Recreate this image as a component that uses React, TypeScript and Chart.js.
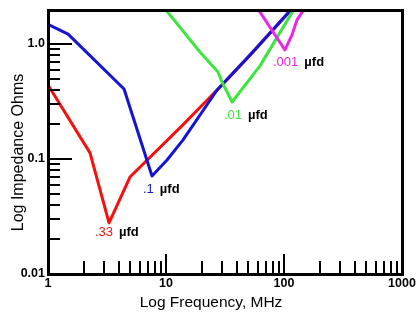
import { useEffect, useRef } from "react";
import { Chart, registerables } from "chart.js";

Chart.register(...registerables);

const FONT = "'Liberation Sans', Arial, Helvetica, sans-serif";

// Axis ranges and tick labels
const X_MIN = 1;
const X_MAX = 1000;
const Y_MIN = 0.01;
const Y_MAX = 1.975;
const X_TICKS = [1, 10, 100, 1000];
const X_TICK_LABELS = ["1", "10", "100", "1000"];
const Y_TICKS = [0.01, 0.1, 1];
const Y_TICK_LABELS = ["0.01", "0.1", "1.0"];

const X_TITLE = "Log Frequency, MHz";
const Y_TITLE = "Log Impedance Ohms";

// Series (capacitor values)
const SERIES_NAMES = [".33", ".1", ".01", ".001"];
const UNIT = "µfd";
const SERIES_COLORS = ["#f51010", "#1414d2", "#3ce63c", "#e628e6"];

// .33 ufd
const FREQ_033 = [1, 2.27, 3.29, 4.95, 13.9, 29.8, 51.5, 112.4, 136.7];
const Z_033 = [0.44, 0.113, 0.0278, 0.0697, 0.198, 0.44, 0.8, 1.94, 2.41];
// .1 ufd
const FREQ_01 = [1, 1.48, 4.41, 7.61, 10.2, 13.9, 27.1, 51.5, 112.4, 136.7];
const Z_01 = [1.48, 1.22, 0.406, 0.0712, 0.098, 0.146, 0.398, 0.8, 1.94, 2.41];
// .01 ufd
const FREQ_001 = [8.55, 19.4, 27.6, 29.8, 36.3, 62.6, 119.2, 139.3];
const Z_001 = [2.41, 0.851, 0.571, 0.468, 0.313, 0.645, 1.94, 2.41];
// .001 ufd
const FREQ_0001 = [53.6, 101.9, 116.9, 128.9, 144.9, 159.7];
const Z_0001 = [2.41, 0.887, 1.2, 1.62, 1.94, 2.32];

// Label anchors (data coordinates, left edge / vertical middle)
const LABEL_X = [2.5, 6.38, 31.0, 80.7];
const LABEL_Y = [0.023, 0.0548, 0.237, 0.697];

const FREQS = [FREQ_033, FREQ_01, FREQ_001, FREQ_0001];
const ZS = [Z_033, Z_01, Z_001, Z_0001];

const decorPlugin = {
  id: "decor",
  afterDatasetsDraw(chart: any) {
    const { ctx, chartArea: a, scales } = chart;
    const xs = scales.x;
    const ys = scales.y;
    ctx.save();
    ctx.strokeStyle = "#000";
    ctx.lineWidth = 2;
    // y ticks (inside)
    for (let k = -2; k <= 0; k++) {
      for (let m = 1; m < 10; m++) {
        const v = m * Math.pow(10, k);
        if (v <= Y_MIN * 1.0001 || v >= Y_MAX) continue;
        const py = Math.round(ys.getPixelForValue(v));
        const len = m === 1 ? 24 : 12;
        ctx.beginPath();
        ctx.moveTo(a.left, py);
        ctx.lineTo(a.left + len, py);
        ctx.stroke();
      }
    }
    // x ticks (inside)
    for (let k = 0; k <= 2; k++) {
      for (let m = 1; m < 10; m++) {
        const v = m * Math.pow(10, k);
        if (v <= X_MIN * 1.0001 || v >= X_MAX * 0.9999) continue;
        const px = Math.round(xs.getPixelForValue(v));
        const len = m === 1 ? 20 : 13;
        ctx.beginPath();
        ctx.moveTo(px, a.bottom);
        ctx.lineTo(px, a.bottom - len);
        ctx.stroke();
      }
    }
    // frame
    ctx.lineWidth = 3;
    const l = Math.round(a.left) + 0.5;
    const t = Math.round(a.top) + 0.5;
    const r = Math.round(a.right) + 0.5;
    const b = Math.round(a.bottom) + 0.5;
    ctx.strokeRect(l, t, r - l, b - t);

    // series labels
    ctx.textBaseline = "middle";
    ctx.textAlign = "left";
    for (let i = 0; i < SERIES_NAMES.length; i++) {
      const px = xs.getPixelForValue(LABEL_X[i]);
      const py = ys.getPixelForValue(LABEL_Y[i]);
      ctx.font = `13px ${FONT}`;
      ctx.fillStyle = SERIES_COLORS[i];
      ctx.fillText(SERIES_NAMES[i], px, py);
      const w = ctx.measureText(SERIES_NAMES[i]).width;
      ctx.font = `bold 13px ${FONT}`;
      ctx.fillStyle = "#000";
      ctx.fillText(UNIT, px + w + 6, py);
    }

    // axis titles
    ctx.fillStyle = "#000";
    ctx.font = `15.5px ${FONT}`;
    ctx.textAlign = "center";
    ctx.textBaseline = "alphabetic";
    ctx.fillText(X_TITLE, 211, 307);
    ctx.save();
    ctx.translate(23, 152.5);
    ctx.rotate(-Math.PI / 2);
    ctx.font = `16px ${FONT}`;
    ctx.fillText(Y_TITLE, 0, 0);
    ctx.restore();
    ctx.restore();
  },
};

export default function App() {
  const ref = useRef<HTMLCanvasElement | null>(null);

  useEffect(() => {
    if (!ref.current) return;
    const order = [4, 3, 2, 1];
    const chart = new Chart(ref.current, {
      type: "line",
      data: {
        datasets: SERIES_NAMES.map((name, i) => ({
          label: name + " " + UNIT,
          data: FREQS[i].map((f, j) => ({ x: f, y: ZS[i][j] })),
          borderColor: SERIES_COLORS[i],
          backgroundColor: SERIES_COLORS[i],
          borderWidth: 3,
          pointRadius: 0,
          tension: 0,
          fill: false,
          borderJoinStyle: "round" as const,
          borderCapStyle: "round" as const,
          order: order[i],
        })),
      },
      options: {
        responsive: false,
        animation: false,
        events: [],
        layout: { padding: { top: 10, right: 16, left: 0, bottom: 0 } },
        plugins: {
          legend: { display: false },
          tooltip: { enabled: false },
          title: { display: false },
        },
        scales: {
          x: {
            type: "logarithmic",
            min: X_MIN,
            max: X_MAX,
            grid: { display: false, drawTicks: false },
            border: { display: false },
            afterBuildTicks: (s: any) => {
              s.ticks = X_TICKS.map((v) => ({ value: v }));
            },
            afterFit: (s: any) => {
              s.height = 40;
              s.paddingLeft = 0;
              s.paddingRight = 0;
            },
            ticks: {
              autoSkip: false,
              maxRotation: 0,
              minRotation: 0,
              padding: 3,
              color: "#000",
              font: { family: FONT, size: 12.5, weight: "bold", lineHeight: 1 },
              callback: (_v: any, i: number) => X_TICK_LABELS[i],
            },
          },
          y: {
            type: "logarithmic",
            min: Y_MIN,
            max: Y_MAX,
            grid: { display: false, drawTicks: false },
            border: { display: false },
            afterBuildTicks: (s: any) => {
              s.ticks = Y_TICKS.map((v) => ({ value: v }));
            },
            afterFit: (s: any) => {
              s.width = 48;
              s.paddingTop = 0;
              s.paddingBottom = 0;
            },
            ticks: {
              autoSkip: false,
              padding: 3,
              color: "#000",
              font: { family: FONT, size: 12.5, weight: "bold", lineHeight: 1 },
              callback: (_v: any, i: number) => Y_TICK_LABELS[i],
            },
          },
        },
      },
      plugins: [decorPlugin],
    } as any);
    return () => chart.destroy();
  }, []);

  return (
    <div style={{ position: "fixed", left: 0, top: 0, width: 418, height: 314, background: "#fff" }}>
      <canvas ref={ref} width={418} height={314} style={{ display: "block" }} />
    </div>
  );
}
